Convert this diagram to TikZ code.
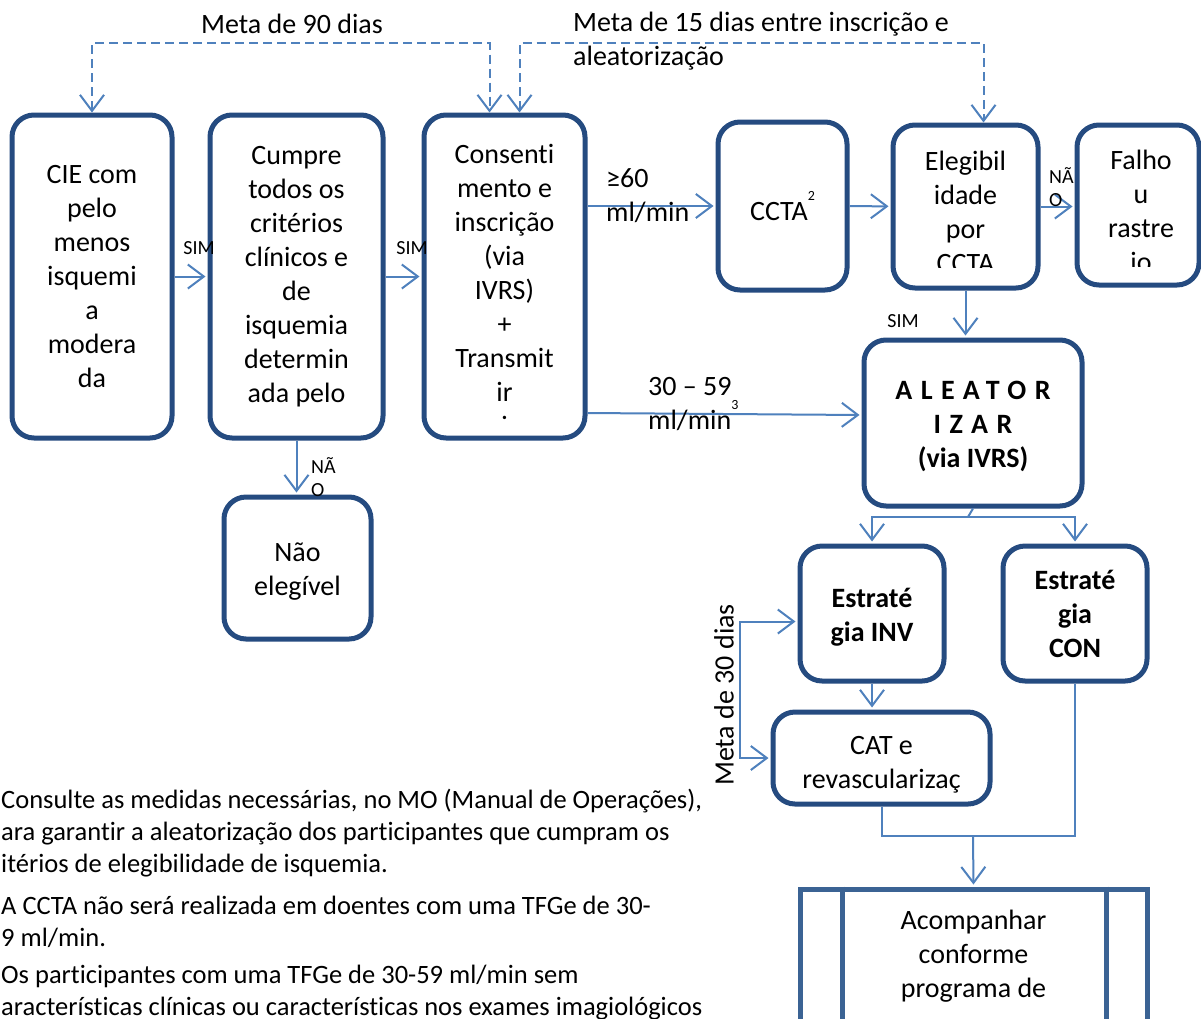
\documentclass[tikz,border=0pt]{standalone}
\usepackage{fontspec}
\setmainfont{Carlito}[Ligatures=NoCommon]
\usetikzlibrary{arrows.meta}

\definecolor{boxblue}{HTML}{254B80}
\definecolor{arrowblue}{HTML}{4F81BD}
\definecolor{procblue}{HTML}{3B6394}

\newcommand{\boxfont}{\fontsize{28}{34}\selectfont}
\newcommand{\lblfont}{\fontsize{20}{23}\selectfont}
\newcommand{\notefont}{\fontsize{26.5}{32}\selectfont}
\newcommand{\supnum}[1]{\raisebox{20pt}{\fontsize{14}{14}\selectfont #1}}

\begin{document}
\begin{tikzpicture}[x=1pt, y=-1pt]
       \tikzstyle{box}=[draw=boxblue, line width=5pt, rounded corners=22pt, fill=white, align=center, inner sep=0pt, font=\boxfont]
       \tikzstyle{proc}=[draw=procblue, line width=5pt, fill=white, align=center, inner sep=0pt, font=\boxfont]
       \tikzstyle{txt}=[align=center, inner sep=0pt, font=\boxfont]
       \tikzstyle{lbl}=[align=left, inner sep=0pt, font=\lblfont]
       \tikzstyle{link}=[draw=arrowblue, line width=2pt]
       \tikzstyle{arr}=[link, shorten >=2pt, -{Straight Barb[length=16pt, width=24pt]}]
       \tikzstyle{goal}=[link, dash pattern=on 9pt off 5pt, {Straight Barb[length=16pt, width=24pt]}-{Straight Barb[length=16pt, width=24pt]}]
       \useasboundingbox (0,0) rectangle (1201,1018);
       \clip (0,0) rectangle (1201,1018);
       \fill[white] (0,0) rectangle (1201,1018);

       % boxes
       \node[box, minimum width=160, minimum height=323] (cie) at (92,276.5)
        {CIE com\\pelo\\menos\\isquemi\\a\\modera\\da};
       \node[box, minimum width=173, minimum height=323] (cumpre) at (296.5,276.5)
        {Cumpre\\todos os\\critérios\\clínicos e\\de\\isquemia\\determin\\ada pelo};
       \node[box, minimum width=161, minimum height=323] (consent) at (504.5,276.5) {};
       \begin{scope}
        \clip (430,120) rectangle (580,419);
        \node[txt] (consenttxt) at (504.5,289.5)
         {Consenti\\mento e\\inscrição\\(via\\IVRS)\\+\\Transmit\\ir\\i};
       \end{scope}
       \node[box, minimum width=129, minimum height=168] (ccta) at (782.5,206) {CCTA\supnum{2}};
       \node[box, minimum width=145, minimum height=163] (elig) at (965.5,206.5) {};
       \begin{scope}
        \clip (898,130) rectangle (1033,267);
        \node[txt] (eligtxt) at (965.5,212) {Elegibil\\idade\\por\\CCTA};
       \end{scope}
       \node[box, minimum width=122, minimum height=160] (falho) at (1138,205) {};
       \begin{scope}
        \clip (1082,130) rectangle (1195,266);
        \node[txt] (falhotxt) at (1141,211) {Falho\\u\\rastre\\io};
       \end{scope}
       \node[box, font=\boxfont\bfseries, minimum width=218, minimum height=166] (aleat) at (973,423) {};
       \node[txt, font=\boxfont\bfseries] (aleattxt) at (973,426)
        {{\addfontfeature{LetterSpace=30}ALEATOR}\\{\addfontfeature{LetterSpace=30}IZAR}\\(via IVRS)};
       \node[box, minimum width=144, minimum height=135] (inv) at (872,613.5) {};
       \node[txt, font=\boxfont\bfseries] (invtxt) at (872,617) {Estraté\\gia INV};
       \node[box, font=\boxfont\bfseries, minimum width=144, minimum height=135] (con) at (1075,613.5) {Estraté\\gia\\CON};
       \node[box, minimum width=217, minimum height=92] (cat) at (881.5,758) {};
       \node[txt] (cattxt) at (881.5,765) {CAT e\\revascularizaç};
       \node[proc, minimum width=347, minimum height=134] (acomp) at (973.5,956) {Acompanhar\\conforme\\programa de};
       \draw[procblue, line width=5pt] ([xshift=45pt]acomp.north west) -- ([xshift=45pt]acomp.south west);
       \draw[procblue, line width=5pt] ([xshift=-43pt]acomp.north east) -- ([xshift=-43pt]acomp.south east);
       \node[box, minimum width=147, minimum height=142] (nelig) at (297.5,568) {};
       \node[txt] (neligtxt) at (297.5,572) {Não\\elegível};

       % connectors
       \coordinate (goaly) at (0,43);
       \draw[goal] (cie.north) -- (cie.north |- goaly) -| ([xshift=-15pt]consent.north);
       \draw[goal] ([xshift=15pt]consent.north) -- ([xshift=15pt]consent.north |- goaly) -| ([xshift=18pt]elig.north);
       \draw[arr] (cie) -- (cumpre);
       \draw[arr] (cumpre) -- (consent);
       \draw[arr] (cumpre.south) -- (cumpre.south |- nelig.north);
       \draw[arr] (consent.east |- ccta.west) -- (ccta.west);
       \draw[arr] (ccta) -- (elig);
       \draw[arr] (elig.east) -- (elig.east -| falho.west);
       \draw[arr] (elig.south) -- (elig.south |- aleat.north);
       \draw[arr] ([yshift=-136.5pt]consent.east) -- ([yshift=8pt]aleat.west);
       \coordinate (split) at (968,517);
       \draw[link] (aleat.south) -- (split);
       \draw[arr] (split) -| (inv.north);
       \draw[arr] (split) -| (con.north);
       \draw[arr] (inv.south) -- (inv.south |- cat.north);
       \coordinate (bracket) at (740,690);
       \draw[arr] (bracket) |- ([yshift=-8pt]inv.west);
       \draw[arr] (bracket) |- (cat.west);
       \coordinate (join) at (973,836);
       \draw[link] (cat.south) |- (join -| con.south) -- (con.south);
       \draw[arr] (join) -- (acomp.north);

       % labels
       \node[txt] (m90) at (292,24) {Meta de 90 dias};
       \node[txt, align=left, anchor=west] (m15) at (573,41) {Meta de 15 dias entre inscrição e\\aleatorização};
       \node[txt, rotate=90] (m30) at (724,695) {Meta de 30 dias};
       \node[lbl] (sim1) at (199,248) {SIM};
       \node[lbl] (sim2) at (412,248) {SIM};
       \node[lbl] (sim3) at (903,321) {SIM};
       \node[lbl, anchor=west] (nao1) at (311,477.5) {NÃ\\O};
       \node[lbl, anchor=west] (nao2) at (1049,187.5) {NÃ\\O};
       \node[txt, align=left, anchor=west] (ge60) at (606,196) {≥60\\ml/min};
       \node[txt, align=left, anchor=west] (r3059) at (648,404.5) {30 – 59\\ml/min\supnum{3}};

       % notes
       \node[txt, align=left, anchor=west, font=\notefont] (note1) at (1,833)
        {Consulte as medidas necessárias, no MO (Manual de Operações),\\ara garantir a aleatorização dos participantes que cumpram os\\itérios de elegibilidade de isquemia.};
       \node[txt, align=left, anchor=west, font=\notefont] (note2) at (1,922)
        {A CCTA não será realizada em doentes com uma TFGe de 30-\\9 ml/min.};
       \node[txt, align=left, anchor=west, font=\notefont] (note3) at (1,993)
        {Os participantes com uma TFGe de 30-59 ml/min sem\\aracterísticas clínicas ou características nos exames imagiológicos};
\end{tikzpicture}
\end{document}
